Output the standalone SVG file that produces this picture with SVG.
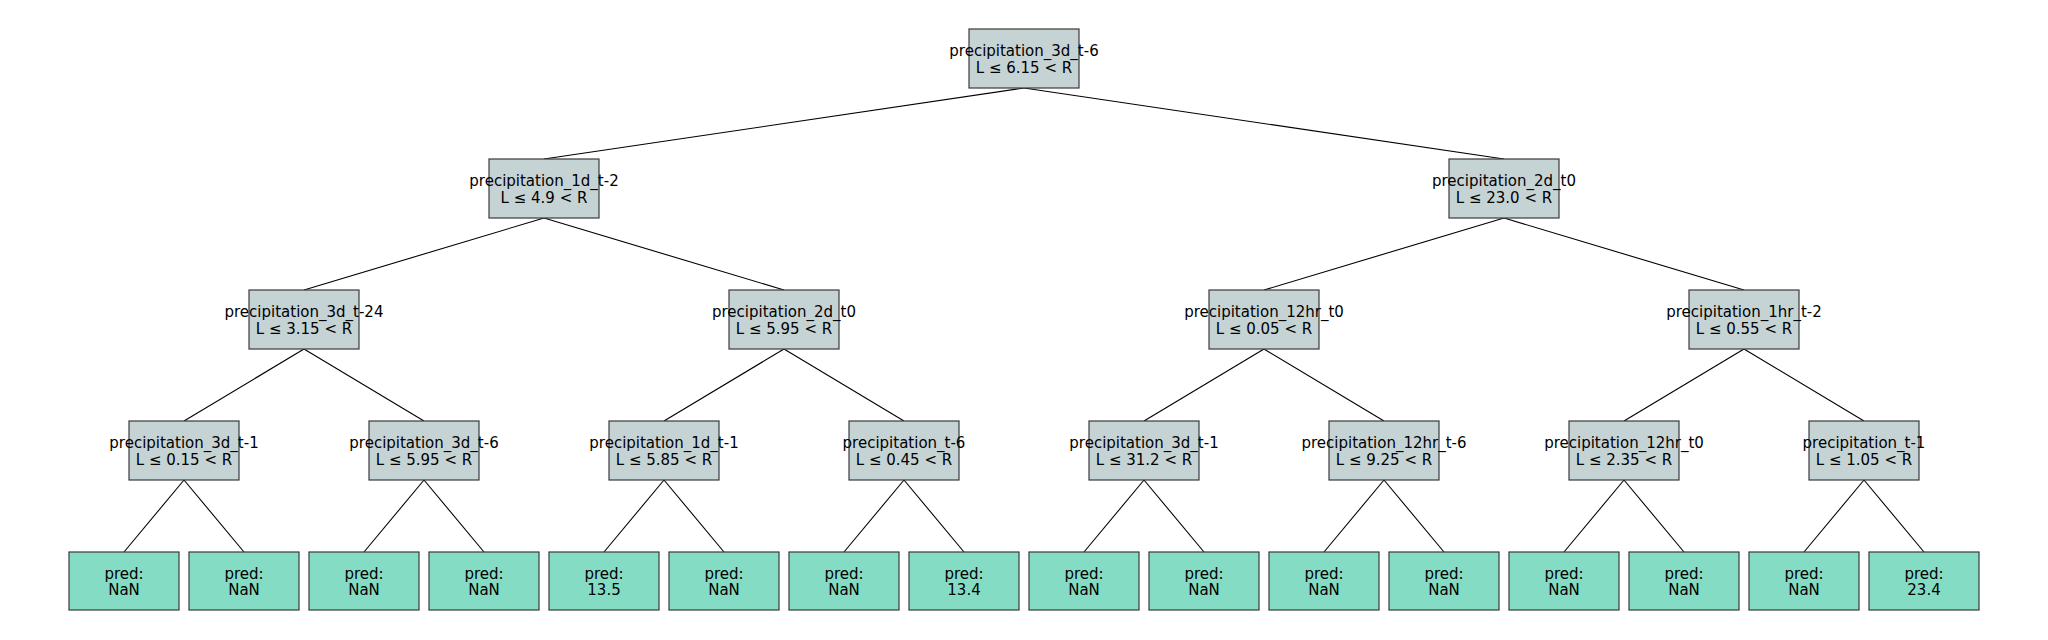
<svg xmlns="http://www.w3.org/2000/svg" width="2048" height="640" viewBox="0 0 2048 640">
<style>
.n rect{fill:#c6d3d5;stroke:#3a3a3a;stroke-width:1.2}
.l rect{fill:#85dcc5;stroke:#3a3a3a;stroke-width:1.2}
text{font-family:"DejaVu Sans","Liberation Sans",sans-serif;font-size:15px;fill:#000;text-anchor:middle}
#edges line{stroke:#000;stroke-width:1.1}
</style>
<rect width="2048" height="640" fill="#fff"/>
<g id="edges">
<line x1="1024" y1="88" x2="544" y2="159"/>
<line x1="1024" y1="88" x2="1504" y2="159"/>
<line x1="544" y1="218" x2="304" y2="290"/>
<line x1="544" y1="218" x2="784" y2="290"/>
<line x1="1504" y1="218" x2="1264" y2="290"/>
<line x1="1504" y1="218" x2="1744" y2="290"/>
<line x1="304" y1="349" x2="184" y2="421"/>
<line x1="304" y1="349" x2="424" y2="421"/>
<line x1="784" y1="349" x2="664" y2="421"/>
<line x1="784" y1="349" x2="904" y2="421"/>
<line x1="1264" y1="349" x2="1144" y2="421"/>
<line x1="1264" y1="349" x2="1384" y2="421"/>
<line x1="1744" y1="349" x2="1624" y2="421"/>
<line x1="1744" y1="349" x2="1864" y2="421"/>
<line x1="184" y1="480" x2="124" y2="552"/>
<line x1="184" y1="480" x2="244" y2="552"/>
<line x1="424" y1="480" x2="364" y2="552"/>
<line x1="424" y1="480" x2="484" y2="552"/>
<line x1="664" y1="480" x2="604" y2="552"/>
<line x1="664" y1="480" x2="724" y2="552"/>
<line x1="904" y1="480" x2="844" y2="552"/>
<line x1="904" y1="480" x2="964" y2="552"/>
<line x1="1144" y1="480" x2="1084" y2="552"/>
<line x1="1144" y1="480" x2="1204" y2="552"/>
<line x1="1384" y1="480" x2="1324" y2="552"/>
<line x1="1384" y1="480" x2="1444" y2="552"/>
<line x1="1624" y1="480" x2="1564" y2="552"/>
<line x1="1624" y1="480" x2="1684" y2="552"/>
<line x1="1864" y1="480" x2="1804" y2="552"/>
<line x1="1864" y1="480" x2="1924" y2="552"/>
</g>
<g id="n0" class="n"><rect x="969" y="29" width="110" height="59"/><text x="1024" y="56">precipitation_3d_t-6</text><text x="1024" y="73">L ≤ 6.15 &lt; R</text></g>
<g id="n1" class="n"><rect x="489" y="159" width="110" height="59"/><text x="544" y="186">precipitation_1d_t-2</text><text x="544" y="203">L ≤ 4.9 &lt; R</text></g>
<g id="n2" class="n"><rect x="1449" y="159" width="110" height="59"/><text x="1504" y="186">precipitation_2d_t0</text><text x="1504" y="203">L ≤ 23.0 &lt; R</text></g>
<g id="n3" class="n"><rect x="249" y="290" width="110" height="59"/><text x="304" y="317">precipitation_3d_t-24</text><text x="304" y="334">L ≤ 3.15 &lt; R</text></g>
<g id="n4" class="n"><rect x="729" y="290" width="110" height="59"/><text x="784" y="317">precipitation_2d_t0</text><text x="784" y="334">L ≤ 5.95 &lt; R</text></g>
<g id="n5" class="n"><rect x="1209" y="290" width="110" height="59"/><text x="1264" y="317">precipitation_12hr_t0</text><text x="1264" y="334">L ≤ 0.05 &lt; R</text></g>
<g id="n6" class="n"><rect x="1689" y="290" width="110" height="59"/><text x="1744" y="317">precipitation_1hr_t-2</text><text x="1744" y="334">L ≤ 0.55 &lt; R</text></g>
<g id="n7" class="n"><rect x="129" y="421" width="110" height="59"/><text x="184" y="448">precipitation_3d_t-1</text><text x="184" y="465">L ≤ 0.15 &lt; R</text></g>
<g id="n8" class="n"><rect x="369" y="421" width="110" height="59"/><text x="424" y="448">precipitation_3d_t-6</text><text x="424" y="465">L ≤ 5.95 &lt; R</text></g>
<g id="n9" class="n"><rect x="609" y="421" width="110" height="59"/><text x="664" y="448">precipitation_1d_t-1</text><text x="664" y="465">L ≤ 5.85 &lt; R</text></g>
<g id="n10" class="n"><rect x="849" y="421" width="110" height="59"/><text x="904" y="448">precipitation_t-6</text><text x="904" y="465">L ≤ 0.45 &lt; R</text></g>
<g id="n11" class="n"><rect x="1089" y="421" width="110" height="59"/><text x="1144" y="448">precipitation_3d_t-1</text><text x="1144" y="465">L ≤ 31.2 &lt; R</text></g>
<g id="n12" class="n"><rect x="1329" y="421" width="110" height="59"/><text x="1384" y="448">precipitation_12hr_t-6</text><text x="1384" y="465">L ≤ 9.25 &lt; R</text></g>
<g id="n13" class="n"><rect x="1569" y="421" width="110" height="59"/><text x="1624" y="448">precipitation_12hr_t0</text><text x="1624" y="465">L ≤ 2.35 &lt; R</text></g>
<g id="n14" class="n"><rect x="1809" y="421" width="110" height="59"/><text x="1864" y="448">precipitation_t-1</text><text x="1864" y="465">L ≤ 1.05 &lt; R</text></g>
<g id="l0" class="l"><rect x="69" y="552" width="110" height="58"/><text x="124" y="578.5">pred:</text><text x="124" y="595">NaN</text></g>
<g id="l1" class="l"><rect x="189" y="552" width="110" height="58"/><text x="244" y="578.5">pred:</text><text x="244" y="595">NaN</text></g>
<g id="l2" class="l"><rect x="309" y="552" width="110" height="58"/><text x="364" y="578.5">pred:</text><text x="364" y="595">NaN</text></g>
<g id="l3" class="l"><rect x="429" y="552" width="110" height="58"/><text x="484" y="578.5">pred:</text><text x="484" y="595">NaN</text></g>
<g id="l4" class="l"><rect x="549" y="552" width="110" height="58"/><text x="604" y="578.5">pred:</text><text x="604" y="595">13.5</text></g>
<g id="l5" class="l"><rect x="669" y="552" width="110" height="58"/><text x="724" y="578.5">pred:</text><text x="724" y="595">NaN</text></g>
<g id="l6" class="l"><rect x="789" y="552" width="110" height="58"/><text x="844" y="578.5">pred:</text><text x="844" y="595">NaN</text></g>
<g id="l7" class="l"><rect x="909" y="552" width="110" height="58"/><text x="964" y="578.5">pred:</text><text x="964" y="595">13.4</text></g>
<g id="l8" class="l"><rect x="1029" y="552" width="110" height="58"/><text x="1084" y="578.5">pred:</text><text x="1084" y="595">NaN</text></g>
<g id="l9" class="l"><rect x="1149" y="552" width="110" height="58"/><text x="1204" y="578.5">pred:</text><text x="1204" y="595">NaN</text></g>
<g id="l10" class="l"><rect x="1269" y="552" width="110" height="58"/><text x="1324" y="578.5">pred:</text><text x="1324" y="595">NaN</text></g>
<g id="l11" class="l"><rect x="1389" y="552" width="110" height="58"/><text x="1444" y="578.5">pred:</text><text x="1444" y="595">NaN</text></g>
<g id="l12" class="l"><rect x="1509" y="552" width="110" height="58"/><text x="1564" y="578.5">pred:</text><text x="1564" y="595">NaN</text></g>
<g id="l13" class="l"><rect x="1629" y="552" width="110" height="58"/><text x="1684" y="578.5">pred:</text><text x="1684" y="595">NaN</text></g>
<g id="l14" class="l"><rect x="1749" y="552" width="110" height="58"/><text x="1804" y="578.5">pred:</text><text x="1804" y="595">NaN</text></g>
<g id="l15" class="l"><rect x="1869" y="552" width="110" height="58"/><text x="1924" y="578.5">pred:</text><text x="1924" y="595">23.4</text></g>
</svg>
